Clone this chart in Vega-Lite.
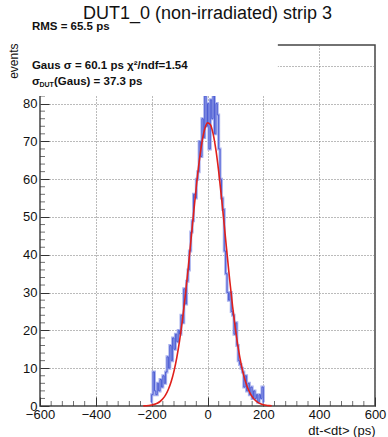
{
  "$schema": "https://vega.github.io/schema/vega-lite/v6.json",
  "autosize": {"type": "none"},
  "width": 335,
  "height": 361,
  "padding": {"left": 40, "top": 45, "right": 13, "bottom": 31},
  "background": "white",
  "config": {"font": "Liberation Sans", "view": {"stroke": "#444", "strokeWidth": 1.5}},
  "title": {"text": "DUT1_0 (non-irradiated) strip 3", "fontSize": 18, "fontWeight": "normal", "font": "Liberation Sans", "anchor": "middle", "frame": "group", "baseline": "alphabetic", "offset": -16, "color": "#111"},
  "datasets": {
    "hist": [
      {"dt": -202.5, "events": 1}, {"dt": -197.5, "events": 3}, {"dt": -192.5, "events": 9}, {"dt": -187.5, "events": 4},
      {"dt": -182.5, "events": 3}, {"dt": -177.5, "events": 6}, {"dt": -172.5, "events": 4}, {"dt": -167.5, "events": 7},
      {"dt": -162.5, "events": 5}, {"dt": -157.5, "events": 8}, {"dt": -152.5, "events": 6}, {"dt": -147.5, "events": 9},
      {"dt": -142.5, "events": 13}, {"dt": -137.5, "events": 10}, {"dt": -132.5, "events": 16}, {"dt": -127.5, "events": 12},
      {"dt": -122.5, "events": 18}, {"dt": -117.5, "events": 15}, {"dt": -112.5, "events": 19}, {"dt": -107.5, "events": 17},
      {"dt": -102.5, "events": 20}, {"dt": -97.5, "events": 19}, {"dt": -92.5, "events": 24}, {"dt": -87.5, "events": 22},
      {"dt": -82.5, "events": 31}, {"dt": -77.5, "events": 27}, {"dt": -72.5, "events": 33}, {"dt": -67.5, "events": 36},
      {"dt": -62.5, "events": 41}, {"dt": -57.5, "events": 46}, {"dt": -52.5, "events": 49}, {"dt": -47.5, "events": 56},
      {"dt": -42.5, "events": 55}, {"dt": -37.5, "events": 60}, {"dt": -32.5, "events": 62}, {"dt": -27.5, "events": 70},
      {"dt": -22.5, "events": 66}, {"dt": -17.5, "events": 76}, {"dt": -12.5, "events": 71}, {"dt": -7.5, "events": 82},
      {"dt": -2.5, "events": 74}, {"dt": 2.5, "events": 80}, {"dt": 7.5, "events": 68}, {"dt": 12.5, "events": 81},
      {"dt": 17.5, "events": 76}, {"dt": 22.5, "events": 82}, {"dt": 27.5, "events": 72}, {"dt": 32.5, "events": 80},
      {"dt": 37.5, "events": 77}, {"dt": 42.5, "events": 68}, {"dt": 47.5, "events": 60}, {"dt": 52.5, "events": 55},
      {"dt": 57.5, "events": 52}, {"dt": 62.5, "events": 41}, {"dt": 67.5, "events": 35}, {"dt": 72.5, "events": 30},
      {"dt": 77.5, "events": 28}, {"dt": 82.5, "events": 30}, {"dt": 87.5, "events": 25}, {"dt": 92.5, "events": 24},
      {"dt": 97.5, "events": 19}, {"dt": 102.5, "events": 22}, {"dt": 107.5, "events": 16}, {"dt": 112.5, "events": 12},
      {"dt": 117.5, "events": 11}, {"dt": 122.5, "events": 10}, {"dt": 127.5, "events": 9}, {"dt": 132.5, "events": 5},
      {"dt": 137.5, "events": 8}, {"dt": 142.5, "events": 4}, {"dt": 147.5, "events": 6}, {"dt": 152.5, "events": 3},
      {"dt": 157.5, "events": 5}, {"dt": 162.5, "events": 2}, {"dt": 167.5, "events": 4}, {"dt": 172.5, "events": 2},
      {"dt": 177.5, "events": 3}, {"dt": 182.5, "events": 1}, {"dt": 187.5, "events": 3}, {"dt": 192.5, "events": 2},
      {"dt": 197.5, "events": 5}, {"dt": 202.5, "events": 1}
    ],
    "fit": [
      {"dt": -230, "f": 0.04}, {"dt": -220, "f": 0.08}, {"dt": -210, "f": 0.14}, {"dt": -200, "f": 0.25},
      {"dt": -190, "f": 0.43}, {"dt": -180, "f": 0.73}, {"dt": -170, "f": 1.19}, {"dt": -160, "f": 1.9},
      {"dt": -150, "f": 2.93}, {"dt": -140, "f": 4.43}, {"dt": -130, "f": 6.48}, {"dt": -120, "f": 9.23},
      {"dt": -110, "f": 12.8}, {"dt": -100, "f": 17.27}, {"dt": -90, "f": 22.67}, {"dt": -80, "f": 28.9},
      {"dt": -70, "f": 35.86}, {"dt": -60, "f": 43.31}, {"dt": -50, "f": 50.83}, {"dt": -40, "f": 58.07},
      {"dt": -30, "f": 64.5}, {"dt": -20, "f": 69.7}, {"dt": -10, "f": 73.27}, {"dt": 0, "f": 74.91},
      {"dt": 10, "f": 74.49}, {"dt": 20, "f": 72.06}, {"dt": 30, "f": 67.8}, {"dt": 40, "f": 62.06},
      {"dt": 50, "f": 55.24}, {"dt": 60, "f": 47.84}, {"dt": 70, "f": 40.29}, {"dt": 80, "f": 33.01},
      {"dt": 90, "f": 26.3}, {"dt": 100, "f": 20.39}, {"dt": 110, "f": 15.38}, {"dt": 120, "f": 11.27},
      {"dt": 130, "f": 8.04}, {"dt": 140, "f": 5.58}, {"dt": 150, "f": 3.77}, {"dt": 160, "f": 2.47},
      {"dt": 170, "f": 1.58}, {"dt": 180, "f": 0.98}, {"dt": 190, "f": 0.59}, {"dt": 200, "f": 0.35},
      {"dt": 210, "f": 0.2}, {"dt": 220, "f": 0.11}, {"dt": 230, "f": 0.06}
    ],
    "xminor": [
      {"dt": -560}, {"dt": -520}, {"dt": -480}, {"dt": -440}, {"dt": -360}, {"dt": -320}, {"dt": -280}, {"dt": -240},
      {"dt": -160}, {"dt": -120}, {"dt": -80}, {"dt": -40}, {"dt": 40}, {"dt": 80}, {"dt": 120}, {"dt": 160},
      {"dt": 240}, {"dt": 280}, {"dt": 320}, {"dt": 360}, {"dt": 440}, {"dt": 480}, {"dt": 520}, {"dt": 560}
    ],
    "yminor": [
      {"ev": 2}, {"ev": 4}, {"ev": 6}, {"ev": 8}, {"ev": 12}, {"ev": 14}, {"ev": 16}, {"ev": 18},
      {"ev": 22}, {"ev": 24}, {"ev": 26}, {"ev": 28}, {"ev": 32}, {"ev": 34}, {"ev": 36}, {"ev": 38},
      {"ev": 42}, {"ev": 44}, {"ev": 46}, {"ev": 48}, {"ev": 52}, {"ev": 54}, {"ev": 56}, {"ev": 58},
      {"ev": 62}, {"ev": 64}, {"ev": 66}, {"ev": 68}, {"ev": 72}, {"ev": 74}, {"ev": 76}, {"ev": 78},
      {"ev": 82}, {"ev": 84}, {"ev": 86}, {"ev": 88}, {"ev": 92}, {"ev": 94}
    ],
    "stats": [
      {"t": "RMS = 65.5 ps", "dt": -629, "y": 100.3},
      {"t": "Gaus σ = 60.1 ps  χ²/ndf=1.54", "dt": -629, "y": 90},
      {"t": "σ", "dt": -629, "y": 85.7},
      {"t": "(Gaus) = 37.3 ps", "dt": -550, "y": 85.7}
    ],
    "sub": [
      {"t": "DUT", "dt": -602, "y": 84.9}
    ]
  },
  "layer": [
    {
      "data": {"name": "hist"},
      "mark": {"type": "line", "interpolate": "step", "color": "#a9b2ee", "strokeWidth": 3},
      "encoding": {
        "x": {
          "field": "dt", "type": "quantitative",
          "scale": {"domain": [-600, 600], "nice": false, "zero": false},
          "axis": {
            "title": "dt-<dt> (ps)", "titleFontSize": 13, "titleFontWeight": "normal", "titleColor": "#111",
            "titleX": 335, "titleY": 28, "titleAlign": "right", "titleBaseline": "alphabetic", "titleAnchor": "end",
            "values": [-600, -400, -200, 0, 200, 400, 600],
            "labelFontSize": 13, "labelColor": "#111", "labelPadding": 11, "labelFlush": false, "labelOverlap": false,
            "tickSize": -9, "tickColor": "#333", "tickWidth": 1,
            "domain": false,
            "grid": true, "gridDash": [1, 2], "gridColor": "#777"
          }
        },
        "y": {
          "field": "events", "type": "quantitative",
          "scale": {"domain": [0, 95.5], "nice": false, "zero": false},
          "axis": {
            "title": "events", "titleFontSize": 12, "titleFontWeight": "normal", "titleColor": "#111",
            "titleAngle": 270, "titleAlign": "right", "titleBaseline": "middle", "titleX": -27, "titleY": -2,
            "values": [0, 10, 20, 30, 40, 50, 60, 70, 80, 90],
            "labelExpr": "datum.value <= 80 ? datum.label : ''",
            "labelFontSize": 13, "labelColor": "#111", "labelPadding": 12, "labelFlush": false, "labelOverlap": false,
            "tickSize": -9, "tickColor": "#333", "tickWidth": 1,
            "domain": false,
            "grid": true, "gridDash": [1, 2], "gridColor": "#777"
          }
        }
      }
    },
    {
      "data": {"name": "hist"},
      "mark": {"type": "line", "interpolate": "step", "color": "#4d5dd3", "strokeWidth": 1},
      "encoding": {
        "x": {"field": "dt", "type": "quantitative"},
        "y": {"field": "events", "type": "quantitative"}
      }
    },
    {
      "data": {"name": "fit"},
      "mark": {"type": "line", "interpolate": "monotone", "color": "#e0201b", "strokeWidth": 1.6},
      "encoding": {
        "x": {"field": "dt", "type": "quantitative"},
        "y": {"field": "f", "type": "quantitative"}
      }
    },
    {
      "data": {"name": "xminor"},
      "mark": {"type": "tick", "orient": "vertical", "size": 10, "thickness": 1, "color": "#333", "clip": true},
      "encoding": {
        "x": {"field": "dt", "type": "quantitative"},
        "y": {"datum": 0}
      }
    },
    {
      "data": {"name": "yminor"},
      "mark": {"type": "tick", "orient": "horizontal", "size": 10, "thickness": 1, "color": "#333", "clip": true},
      "encoding": {
        "y": {"field": "ev", "type": "quantitative"},
        "x": {"datum": -600}
      }
    },
    {
      "data": {"values": [{}]},
      "mark": {"type": "rect", "color": "white", "clip": false},
      "encoding": {
        "x": {"datum": -610},
        "x2": {"datum": 252},
        "y": {"datum": 82},
        "y2": {"datum": 96}
      }
    },
    {
      "data": {"name": "stats"},
      "mark": {"type": "text", "align": "left", "baseline": "middle", "fontWeight": "bold", "fontSize": 11.5, "color": "#111", "clip": false},
      "encoding": {
        "x": {"field": "dt", "type": "quantitative"},
        "y": {"field": "y", "type": "quantitative"},
        "text": {"field": "t"}
      }
    },
    {
      "data": {"name": "sub"},
      "mark": {"type": "text", "align": "left", "baseline": "middle", "fontWeight": "bold", "fontSize": 7, "color": "#111", "clip": false},
      "encoding": {
        "x": {"field": "dt", "type": "quantitative"},
        "y": {"field": "y", "type": "quantitative"},
        "text": {"field": "t"}
      }
    }
  ]
}
